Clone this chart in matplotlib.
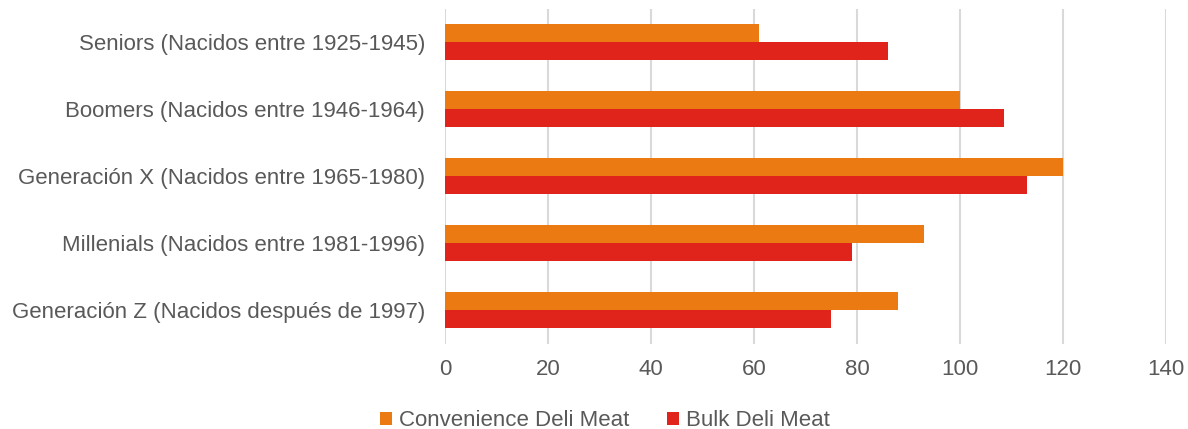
import numpy as np
import matplotlib.pyplot as plt

# Datos
categorias = ['Seniors (Nacidos entre 1925-1945)',
              'Boomers (Nacidos entre 1946-1964)',
              'Generación X (Nacidos entre 1965-1980)',
              'Millenials (Nacidos entre 1981-1996)',
              'Generación Z (Nacidos después de 1997)']
convenience = [61, 100, 120, 93, 88]
bulk = [86, 108.5, 113, 79, 75]
ticks_x = [0, 20, 40, 60, 80, 100, 120, 140]

plt.rcParams['font.family'] = ['Liberation Sans', 'DejaVu Sans']
gris = '#595959'

fig = plt.figure(figsize=(11.88, 4.29), dpi=100)
ax = fig.add_axes([0.3746, 0.199, 0.607, 0.781])

y = np.arange(len(categorias))
h = 0.27
ax.barh(y - h / 2, convenience, height=h, color='#EC7A12', label='Convenience Deli Meat', zorder=3)
ax.barh(y + h / 2, bulk, height=h, color='#E0241B', label='Bulk Deli Meat', zorder=3)

ax.set_ylim(len(categorias) - 0.5, -0.5)
ax.set_xlim(0, 140)
ax.set_yticks(y)
ax.set_yticklabels(categorias)
ax.set_xticks(ticks_x)
ax.tick_params(axis='both', length=0, labelsize=16, labelcolor=gris)
ax.tick_params(axis='y', pad=14.5)
ax.tick_params(axis='x', pad=11)
ax.grid(axis='x', color='#d9d9d9', linewidth=1.5, zorder=0)
for s in ax.spines.values():
    s.set_visible(False)

fig.legend(loc='lower center', bbox_to_anchor=(0.509, -0.052), ncol=2, frameon=False,
           fontsize=16, labelcolor=gris, handlelength=0.55, handleheight=0.55,
           handletextpad=0.3, columnspacing=1.7)

fig.savefig('out.png', dpi=100)
